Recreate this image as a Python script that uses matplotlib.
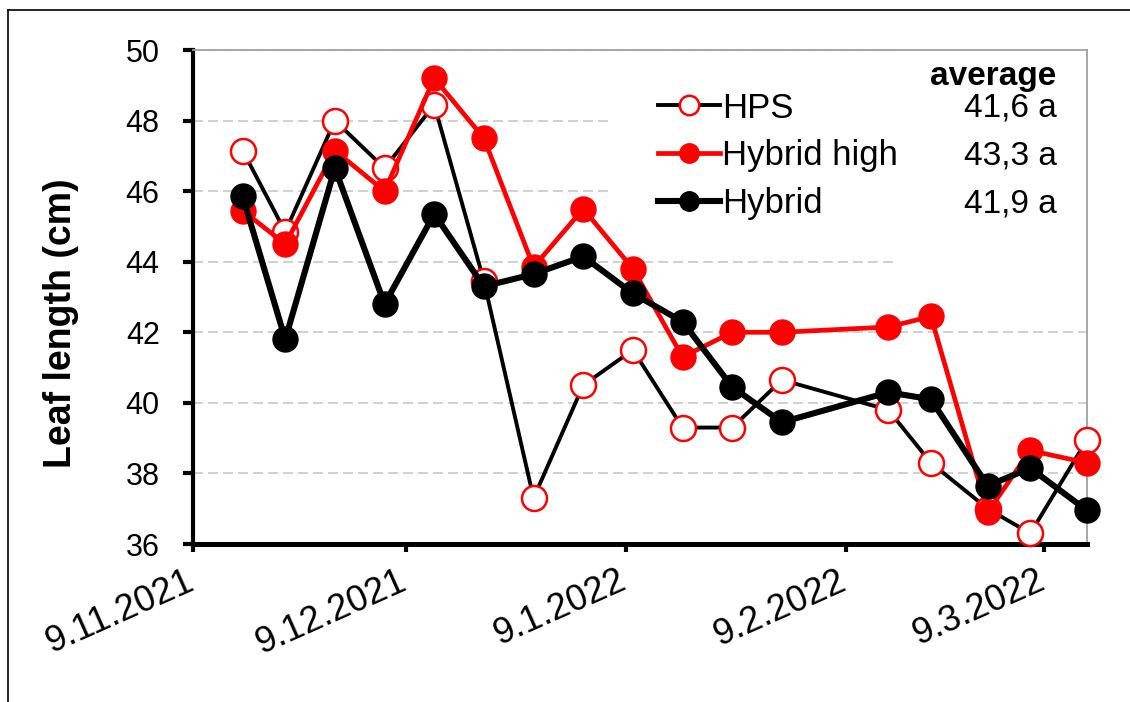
import numpy as np
import pandas as pd
import matplotlib
matplotlib.use("Agg")
import matplotlib.pyplot as plt
import matplotlib.transforms as mtransforms
from matplotlib.lines import Line2D
from matplotlib.patches import Rectangle

plt.rcParams['font.family'] = ['Liberation Sans', 'DejaVu Sans']

# Mittauspäivät ja lehden pituudet (cm)
dates = ['2021-11-16', '2021-11-22', '2021-11-29', '2021-12-06', '2021-12-13',
         '2021-12-20', '2021-12-27', '2022-01-03', '2022-01-10', '2022-01-17',
         '2022-01-24', '2022-01-31', '2022-02-15', '2022-02-21', '2022-03-01',
         '2022-03-07', '2022-03-15']
hps = [47.15, 44.85, 48.0, 46.65, 48.45, 43.45, 37.3, 40.5, 41.5, 39.3,
       39.3, 40.65, 39.8, 38.3, 37.0, 36.3, 38.95]
hybrid_high = [45.45, 44.5, 47.15, 46.0, 49.2, 47.5, 43.85, 45.5, 43.8, 41.3,
               42.0, 42.0, 42.15, 42.45, 36.9, 38.65, 38.3]
hybrid = [45.85, 41.8, 46.65, 42.8, 45.35, 43.3, 43.65, 44.15, 43.1, 42.3,
          40.45, 39.45, 40.3, 40.1, 37.65, 38.15, 36.95]

series_names = ['HPS', 'Hybrid high', 'Hybrid']
averages = ['41,6 a', '43,3 a', '41,9 a']

tick_dates = ['2021-11-09', '2021-12-09', '2022-01-09', '2022-02-09', '2022-03-09']
tick_labels = ['9.11.2021', '9.12.2021', '9.1.2022', '9.2.2022', '9.3.2022']
yticks = [36, 38, 40, 42, 44, 46, 48, 50]

x = pd.to_datetime(dates)

fig = plt.figure(figsize=(11.30, 7.02), dpi=100)
ax = fig.add_axes([193 / 1130, 1 - 544 / 702, 894 / 1130, 494 / 702])

ms = 18
# sarjat: HPS alimpana, Hybrid päällimmäisenä
ax.plot(x, hps, color='black', lw=2.8, marker='o', ms=ms, mfc='white',
        mec='red', mew=1.8, clip_on=False, zorder=3)
ax.plot(x, hybrid_high, color='red', lw=3.4, marker='o', ms=ms, mfc='red',
        mec='red', clip_on=False, zorder=4)
ax.plot(x, hybrid, color='black', lw=4.4, marker='o', ms=ms, mfc='black',
        mec='black', clip_on=False, zorder=5)

ax.set_xlim(pd.Timestamp('2021-11-09'), pd.Timestamp('2022-03-15'))
ax.set_ylim(36, 50)
ax.set_yticks(yticks)
ax.set_xticks(pd.to_datetime(tick_dates))
ax.set_xticklabels(tick_labels, rotation=24, ha='right', rotation_mode='anchor')

ax.tick_params(axis='y', direction='out', length=7, width=3, labelsize=22, pad=17)
ax.tick_params(axis='x', direction='out', length=6, width=3, labelsize=26, pad=8)

# päivämäärät hieman vasemmalle
shift = mtransforms.ScaledTranslation(-6 / 72, 0, fig.dpi_scale_trans)
for lab in ax.get_xticklabels():
    lab.set_transform(lab.get_transform() + shift)

ax.yaxis.grid(True, color='#c8c8c8', ls=(0, (6, 3)), lw=1.2)
ax.set_axisbelow(True)

for s in ['left', 'bottom']:
    ax.spines[s].set_color('black')
ax.spines['left'].set_linewidth(3)
ax.spines['bottom'].set_linewidth(3.6)
for s in ['top', 'right']:
    ax.spines[s].set_color('#a0a0a0')
    ax.spines[s].set_linewidth(1.3)

ax.set_ylabel('Leaf length (cm)', fontsize=27, fontweight='bold')
ax.yaxis.set_label_coords(-0.127, 0.447)

# valkoiset taustat selitteelle ja keskiarvoille
ax.add_patch(Rectangle((0.469, 0.615), 0.32, 0.36, transform=ax.transAxes,
                       facecolor='white', edgecolor='none', zorder=1))
ax.add_patch(Rectangle((0.789, 0.545), 0.211, 0.455, transform=ax.transAxes,
                       facecolor='white', edgecolor='none', zorder=1))

handles = [
    Line2D([], [], color='black', lw=2.8, marker='o', ms=14, mfc='white', mec='red', mew=1.8),
    Line2D([], [], color='red', lw=3.4, marker='o', ms=14, mfc='red', mec='red'),
    Line2D([], [], color='black', lw=4.4, marker='o', ms=14, mfc='black', mec='black'),
]
leg = ax.legend(handles, series_names, loc='upper left', bbox_to_anchor=(0.508, 0.937),
                fontsize=25, frameon=False, handlelength=1.8, handletextpad=0.05,
                labelspacing=0.42, borderpad=0.3, borderaxespad=0)

ax.text(0.966, 0.947, 'average', transform=ax.transAxes, ha='right', va='center',
        fontsize=24, fontweight='bold', zorder=6)
for i, a in enumerate(averages):
    ax.text(0.966, 0.882 - i * 0.097, a, transform=ax.transAxes, ha='right',
            va='center', fontsize=24, zorder=6)

# kuvan reunaviivat (ylä ja vasen)
fig.add_artist(Line2D([8 / 1130, 1], [1 - 10 / 702, 1 - 10 / 702], color='black', lw=1.2))
fig.add_artist(Line2D([8 / 1130, 8 / 1130], [0, 1 - 10 / 702], color='black', lw=1.2))

fig.savefig('out.png', dpi=100)
